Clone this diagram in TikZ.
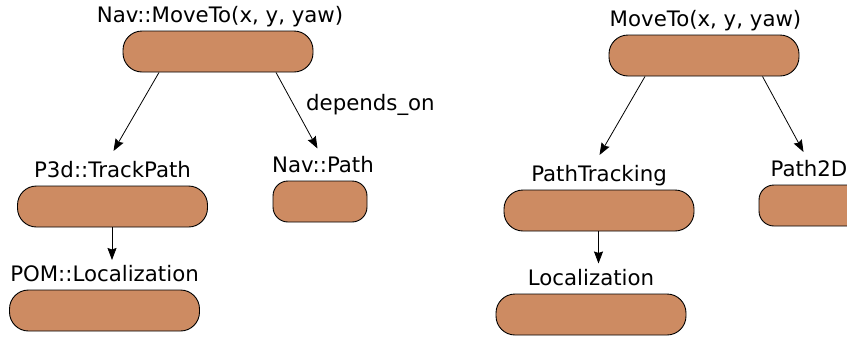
\documentclass[tikz,border=0pt]{standalone}
\usepackage{fontspec}
\setmainfont{DejaVu Sans}
\usetikzlibrary{arrows.meta,positioning}
\definecolor{boxfill}{RGB}{205,139,98}

\begin{document}
\begin{tikzpicture}
		    [x=1pt, y=-1pt, font=\fontsize{21.3}{25}\selectfont,
		    % STYLES
		    % The task style is used to draw the rounded boxes
		    task/.style={rectangle, draw, fill=boxfill, line width=0.9pt, rounded corners=19pt, minimum height=41pt, inner sep=0pt},
		    widebox/.style={task, minimum width=190pt},
		    smallbox/.style={task, minimum width=94pt, rounded corners=15pt},
		    % The tasklabel style is used to write the task's name above its box
		    tasklabel/.style={inner sep=0pt, anchor=base},
		    link/.style={-{Stealth[length=12pt,width=9pt,inset=1.5pt]}, line width=0.8pt}]

		    \useasboundingbox (0,0) rectangle (847,341);

		    % Left tree
		    \node [widebox] (navmove) at (218,51.5) {};
		    \node [widebox] (track) at (112.5,206.5) {};
		    \node [smallbox] (navpath) at (320,201.5) {};
		    \node [widebox] (pom) at (104.5,310.5) {};
		    \node [tasklabel, above=8pt of navmove.north, anchor=base, xshift=2pt] (navmoveL) {Nav::MoveTo(x, y, yaw)};
		    \node [tasklabel, above=8pt of track.north, anchor=base] (trackL) {P3d::TrackPath};
		    \node [tasklabel, above=8pt of navpath.north, anchor=base, xshift=3pt] (navpathL) {Nav::Path};
		    \node [tasklabel, above=8pt of pom.north, anchor=base] (pomL) {POM::Localization};
		    \coordinate (trackIn) at (113.5,151);
		    \coordinate (navpathIn) at (317.5,148.5);
		    \coordinate (pomIn) at (112,260);

		    % Right tree
		    \node [widebox] (move) at (704,55.5) {};
		    \node [widebox] (pathtrack) at (599,210.5) {};
		    \node [smallbox, minimum width=104pt] (path2d) at (811,205.5) {};
		    \node [widebox] (loc) at (591,314.5) {};
		    \node [tasklabel, above=8pt of move.north, anchor=base, xshift=1.5pt] (moveL) {MoveTo(x, y, yaw)};
		    \node [tasklabel, above=8pt of pathtrack.north, anchor=base] (pathtrackL) {PathTracking};
		    \node [tasklabel, above=8pt of path2d.north, anchor=base, xshift=-2pt] (path2dL) {Path2D};
		    \node [tasklabel, above=8pt of loc.north, anchor=base] (locL) {Localization};
		    \coordinate (pathtrackIn) at (599.5,155);
		    \coordinate (path2dIn) at (803.5,152);
		    \coordinate (locIn) at (598.5,263.5);

		    % Draw the links between tasks
		    \draw [link] ([xshift=-59pt]navmove.south) -- (trackIn);
		    \draw [link] ([xshift=58pt]navmove.south) -- (navpathIn)
		        node [tasklabel, pos=.5, anchor=base west, xshift=9pt] {depends\_on};
		    \draw [link] ([xshift=-0.5pt]track.south) -- (pomIn);
		    \draw [link] ([xshift=-59pt]move.south) -- (pathtrackIn);
		    \draw [link] ([xshift=-48.5pt]path2d.north |- move.south) -- (path2dIn);
		    \draw [link] ([xshift=-0.5pt]pathtrack.south) -- (locIn);
		    \end{tikzpicture}
\end{document}
